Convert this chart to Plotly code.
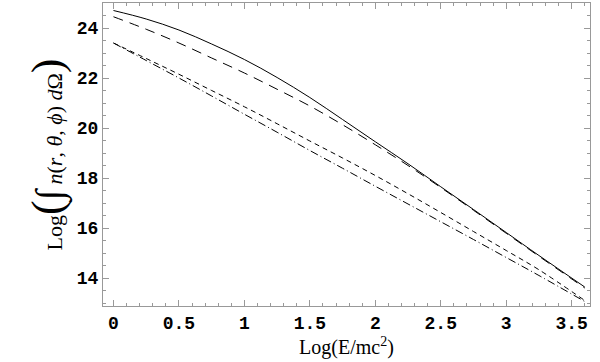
import plotly.graph_objects as go

# log(E/mc^2) sample points
x_vals = [0, 0.25, 0.5, 0.75, 1.0, 1.25, 1.5, 1.75, 2.0, 2.25, 2.5, 2.75, 3.0, 3.25, 3.6]

solid = [24.7, 24.36, 23.92, 23.36, 22.74, 22.02, 21.22, 20.34, 19.45, 18.57, 17.65, 16.74, 15.82, 14.9, 13.64]
long_dash = [24.45, 23.95, 23.4, 22.8, 22.2, 21.55, 20.88, 20.13, 19.33, 18.5, 17.62, 16.71, 15.79, 14.87, 13.6]
short_dash = [23.4, 22.78, 22.15, 21.5, 20.85, 20.17, 19.48, 18.8, 18.1, 17.37, 16.62, 15.86, 15.1, 14.33, 13.1]
dash_dot = [23.4, 22.7, 22.0, 21.28, 20.55, 19.83, 19.1, 18.39, 17.67, 16.96, 16.25, 15.54, 14.82, 14.1, 13.06]

x_ticks = [0, 0.5, 1, 1.5, 2, 2.5, 3, 3.5]
x_labels = ['0', '0.5', '1', '1.5', '2', '2.5', '3', '3.5']
y_ticks = [14, 16, 18, 20, 22, 24]

fig = go.Figure()
for ys, dash in [(solid, 'solid'), (long_dash, '10px,7px'),
                 (short_dash, '5px,4px'), (dash_dot, '8px,3px,1px,3px')]:
    fig.add_trace(go.Scatter(x=x_vals, y=ys, mode='lines', line_shape='spline',
                             line=dict(color='black', width=1, dash=dash),
                             showlegend=False))

tick_font = dict(family='Liberation Mono', size=18, color='black', weight='bold')
title_font = dict(family='Liberation Serif', size=22, color='black')

fig.update_xaxes(range=[-0.08, 3.64], tickvals=x_ticks, ticktext=x_labels,
                 ticks='inside', ticklen=6, tickcolor='#999', tickfont=tick_font,
                 minor=dict(dtick=0.1, ticks='inside', ticklen=3, tickcolor='#999'),
                 showline=True, linecolor='#999', linewidth=1, mirror='allticks',
                 showgrid=False, zeroline=False,
                 title=dict(text='Log(E/mc<sup>2</sup>)', font=dict(family='Liberation Serif', size=20, color='black'),
                            standoff=3))
fig.update_yaxes(range=[12.88, 25.0], tickvals=y_ticks,
                 ticks='inside', ticklen=6, tickcolor='#999', tickfont=tick_font,
                 minor=dict(dtick=0.5, ticks='inside', ticklen=3, tickcolor='#999'),
                 showline=True, linecolor='#999', linewidth=1, mirror='allticks',
                 showgrid=False, zeroline=False,
                 title=dict(text="Log<span style='font-size:44px'>(</span><span style='font-size:38px'>∫</span> <i>n</i>(<i>r</i>, <i>θ</i>, <i>ϕ</i>) <i>d</i>Ω<span style='font-size:44px'>)</span>",
                            font=title_font, standoff=8))

fig.update_layout(width=600, height=362, plot_bgcolor='white', paper_bgcolor='white',
                  margin=dict(l=103, r=10, t=3, b=56))
fig.write_html('out.html', config={'displayModeBar': False},
               post_script="document.body.style.margin='0';")
